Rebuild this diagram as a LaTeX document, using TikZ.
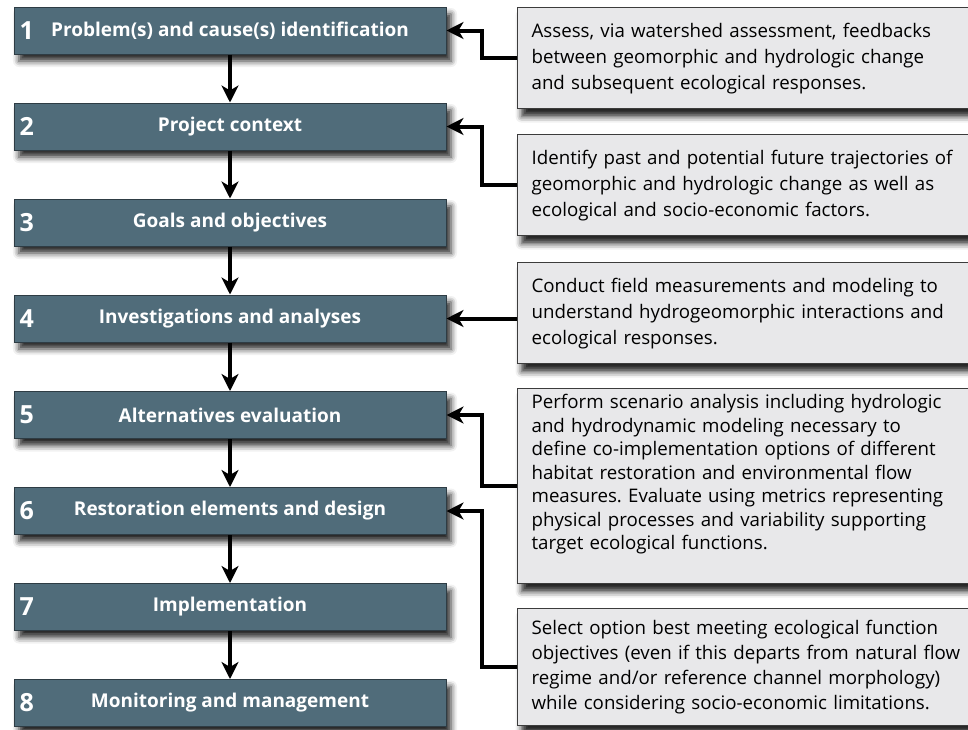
\documentclass[tikz,border=0pt]{standalone}
\usepackage{fontspec}
\setmainfont{Open Sans}
\usepackage{tikz}
\usetikzlibrary{positioning, arrows.meta, shadows.blur}

\definecolor{stagefill}{HTML}{506C7A}
\definecolor{stageline}{HTML}{2E3C44}
\definecolor{notefill}{HTML}{E8E8EA}
\definecolor{noteline}{HTML}{3C3C3C}

\frenchspacing

\begin{document}
\begin{tikzpicture}[x=1pt, y=-1pt, >={Stealth[length=17pt, width=17pt, inset=5pt]}]

\tikzset{
  stage/.style={draw=stageline, fill=stagefill, line width=1pt, minimum width=432pt, minimum height=47pt, text=white, font=\fontsize{19}{22}\selectfont\bfseries, blur shadow={shadow xshift=5pt, shadow yshift=-7pt, shadow blur radius=6pt, shadow opacity=85}},
  num/.style={anchor=west, xshift=6pt, text=white, font=\fontsize{25}{25}\selectfont\bfseries, inner sep=0pt},
  note/.style={draw=noteline, fill=notefill, line width=1.2pt, anchor=north west, text width=430pt, inner xsep=14pt, inner ysep=4pt, align=left, font=\fontsize{18.7}{26}\selectfont, blur shadow={shadow xshift=4pt, shadow yshift=-8pt, shadow blur radius=6pt, shadow opacity=85}},
  flow/.style={->, line width=3.5pt},
  link/.style={->, line width=4pt},
}

\useasboundingbox (0,0) rectangle (968,729);

\node[stage, label={[num]west:1}] (step1) at (230,30.5) {Problem(s) and cause(s) identification};
\node[stage, label={[num]west:2}] (step2) at (230,126.5) {Project context};
\node[stage, label={[num]west:3}] (step3) at (230,222.5) {Goals and objectives};
\node[stage, label={[num]west:4}] (step4) at (230,318.5) {Investigations and analyses};
\node[stage, label={[num]west:5}] (step5) at (230,415) {Alternatives evaluation};
\node[stage, label={[num]west:6}] (step6) at (230,511) {Restoration elements and design};
\node[stage, label={[num]west:7}] (step7) at (230,607) {Implementation};
\node[stage, label={[num]west:8}] (step8) at (230,703) {Monitoring and management};

\node[note, minimum height=101pt] (noteA) at (517,7) {
  Assess, via watershed assessment, feedbacks\\
  between geomorphic and hydrologic change\\
  and subsequent ecological responses.};

\node[note, minimum height=101pt] (noteB) at (517,134) {
  Identify past and potential future trajectories of\\
  geomorphic and hydrologic change as well as\\
  ecological and socio-economic factors.};

\node[note, minimum height=101pt] (noteC) at (517,262) {
  Conduct field measurements and modeling to\\
  understand hydrogeomorphic interactions and\\
  ecological responses.};

\node[note, text height=16pt, text depth=171pt, font=\fontsize{18.7}{23.5}\selectfont] (noteD) at (517,388) {
  Perform scenario analysis including hydrologic\\
  and hydrodynamic modeling necessary to\\
  define co-implementation options of different\\
  habitat restoration and environmental flow\\
  measures. Evaluate using metrics representing\\
  physical processes and variability supporting\\
  target ecological functions.};

\node[note, minimum height=117pt, font=\fontsize{18.7}{25}\selectfont] (noteE) at (517,608) {
  Select option best meeting ecological function\\
  objectives (even if this departs from natural flow\\
  regime and/or reference channel morphology)\\
  while considering socio-economic limitations.};

\draw[flow] (step1) -- (step2);
\draw[flow] (step2) -- (step3);
\draw[flow] (step3) -- (step4);
\draw[flow] (step4) -- (step5);
\draw[flow] (step5) -- (step6);
\draw[flow] (step6) -- (step7);
\draw[flow] (step7) -- (step8);

\draw[link] (noteA.west) -- ++(-35,0) |- (step1.east);
\draw[link] (noteB.west) -- ++(-35,0) |- (step2.east);
\draw[link] (noteC.west |- step4.east) -- (step4.east);
\draw[link] (noteD.west) -- ++(-35,0) |- (step5.east);
\draw[link] (noteE.west) -- ++(-35,0) |- (step6.east);

\end{tikzpicture}
\end{document}
